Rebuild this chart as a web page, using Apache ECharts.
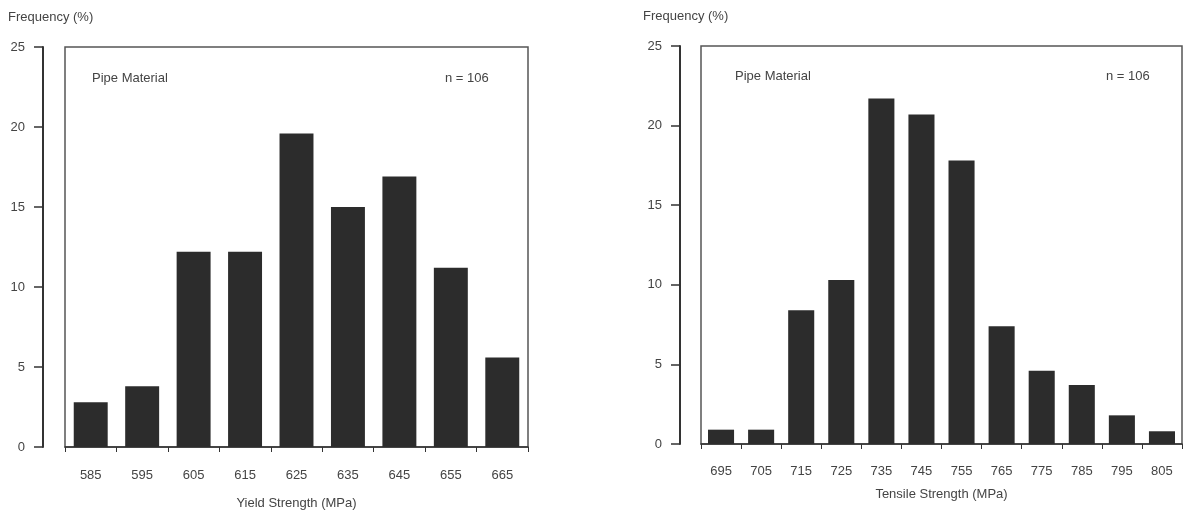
<!DOCTYPE html>
<html>
<head>
<meta charset="utf-8">
<script src="https://cdn.jsdelivr.net/npm/echarts@6/dist/echarts.min.js"></script>
<style>
  html, body { margin: 0; padding: 0; background: #fff; }
  #chart { width: 1185px; height: 515px; }
</style>
</head>
<body>
<div id="chart"></div>
<script>
// yield strength histogram (left)
const yieldCats = ['585', '595', '605', '615', '625', '635', '645', '655', '665']
const yieldFreq = [2.8, 3.8, 12.2, 12.2, 19.6, 15.0, 16.9, 11.2, 5.6]
// tensile strength histogram (right)
const tensileCats = ['695', '705', '715', '725', '735', '745', '755', '765', '775', '785', '795', '805']
const tensileFreq = [0.9, 0.9, 8.4, 10.3, 21.7, 20.7, 17.8, 7.4, 4.6, 3.7, 1.8, 0.8]
const yTicks = [0, 5, 10, 15, 20, 25]

const textColor = '#444'
const lineColor = '#333'
const barColor = '#2c2c2c'
const font = 'Liberation Sans, Arial, sans-serif'

const chart = echarts.init(document.getElementById('chart'))

const makeY = (gridIndex, offset) => ({
  type: 'value',
  gridIndex,
  min: yTicks[0],
  max: yTicks[yTicks.length - 1],
  interval: 5,
  position: 'left',
  offset,
  splitLine: { show: false },
  axisLine: { show: true, lineStyle: { color: lineColor, width: 2 } },
  axisTick: { show: true, length: 9, lineStyle: { color: lineColor, width: 1.5 } },
  axisLabel: { margin: 18, color: textColor, fontSize: 13, fontFamily: font },
})

const makeX = (gridIndex, cats, name, labelMargin, nameGap) => ({
  type: 'category',
  gridIndex,
  data: cats,
  name,
  nameLocation: 'middle',
  nameGap,
  nameTextStyle: { color: textColor, fontSize: 13, fontFamily: font },
  axisLine: { show: true, lineStyle: { color: lineColor, width: 1.5 } },
  axisTick: { show: true, length: 5, lineStyle: { color: lineColor } },
  axisLabel: { margin: labelMargin, color: textColor, fontSize: 13, fontFamily: font },
})

const txt = (x, y, text) => ({
  type: 'text',
  left: x,
  top: y,
  style: { text, fill: textColor, fontSize: 13, fontFamily: font },
})

chart.setOption({
  animation: false,
  grid: [
    { left: 65, top: 47, width: 463, height: 402, show: true, borderColor: '#555', borderWidth: 1.5 },
    { left: 701, top: 46, width: 481, height: 398, show: true, borderColor: '#555', borderWidth: 1.5 },
  ],
  xAxis: [
    makeX(0, yieldCats, 'Yield Strength (MPa)', 22, 50),
    makeX(1, tensileCats, 'Tensile Strength (MPa)', 21, 44),
  ],
  yAxis: [makeY(0, 22), makeY(1, 21)],
  series: [
    {
      type: 'bar',
      xAxisIndex: 0,
      yAxisIndex: 0,
      data: yieldFreq,
      barCategoryGap: '34%',
      itemStyle: { color: barColor },
    },
    {
      type: 'bar',
      xAxisIndex: 1,
      yAxisIndex: 1,
      data: tensileFreq,
      barCategoryGap: '35%',
      itemStyle: { color: barColor },
    },
  ],
  graphic: [
    txt(8, 11, 'Frequency (%)'),
    txt(643, 10, 'Frequency (%)'),
    txt(92, 72, 'Pipe Material'),
    txt(445, 72, 'n = 106'),
    txt(735, 70, 'Pipe Material'),
    txt(1106, 70, 'n = 106'),
  ],
})
</script>
</body>
</html>
